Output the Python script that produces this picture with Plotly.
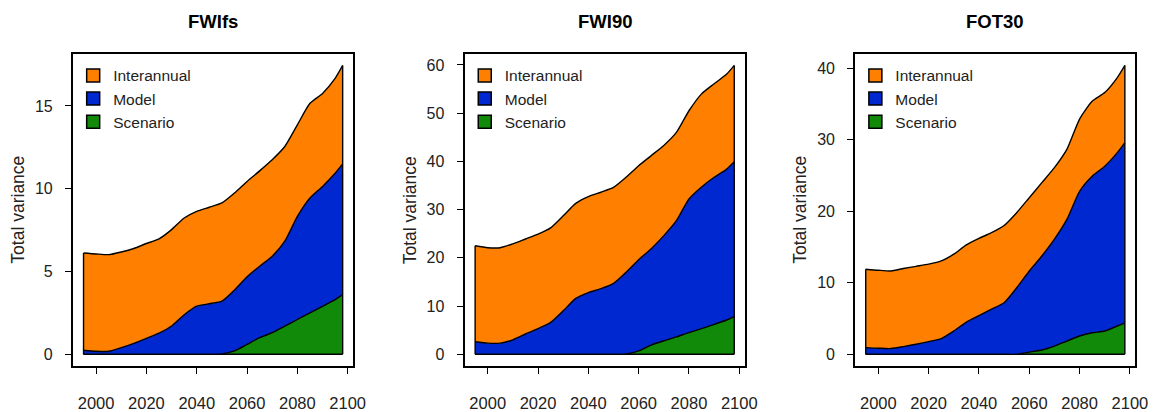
import plotly.graph_objects as go

years = [1995, 2000, 2005, 2010, 2015, 2020, 2025, 2030, 2035, 2040, 2045,
         2050, 2055, 2060, 2065, 2070, 2075, 2080, 2085, 2090, 2095, 2098]

titles = ["FWIfs", "FWI90", "FOT30"]
series_names = ["Interannual", "Model", "Scenario"]

# Variance components (stacked: scenario at bottom, then model, then interannual)
fwifs_scenario = [0, 0, 0, 0, 0, 0, 0, 0, 0, 0, 0, 0.02, 0.2, 0.6, 1.0, 1.3, 1.7, 2.1, 2.5, 2.9, 3.3, 3.6]
fwifs_model = [0.24, 0.18, 0.18, 0.40, 0.66, 0.96, 1.27, 1.71, 2.39, 2.91, 3.05, 3.19, 3.68, 4.08, 4.32, 4.62, 5.13, 6.23, 6.94, 7.24, 7.64, 7.90]
fwifs_interannual = [5.88, 5.88, 5.84, 5.78, 5.73, 5.73, 5.70, 5.82, 5.84, 5.72, 5.83, 5.93, 5.86, 5.76, 5.76, 5.83, 5.72, 5.53, 5.72, 5.62, 5.73, 5.95]

fwi90_scenario = [0, 0, 0, 0, 0, 0, 0, 0, 0, 0, 0, 0, 0.05, 0.7, 1.9, 2.8, 3.6, 4.5, 5.3, 6.2, 7.1, 7.8]
fwi90_model = [2.6, 2.3, 2.3, 3.0, 4.2, 5.3, 6.6, 9.0, 11.6, 12.8, 13.6, 14.7, 16.95, 18.9, 20.0, 21.8, 24.1, 27.7, 29.4, 30.5, 31.3, 32.1]
fwi90_interannual = [19.9, 19.8, 19.8, 19.9, 19.7, 19.6, 19.6, 19.7, 19.7, 19.9, 20.0, 19.9, 19.7, 19.5, 19.3, 18.7, 18.3, 18.3, 19.3, 19.4, 19.7, 20.0]

fot30_scenario = [0, 0, 0, 0, 0, 0, 0, 0, 0, 0, 0, 0, 0, 0.3, 0.6, 1.15, 1.85, 2.55, 3.0, 3.25, 3.95, 4.4]
fot30_model = [0.93, 0.84, 0.8, 1.07, 1.4, 1.77, 2.2, 3.26, 4.5, 5.4, 6.3, 7.2, 9.3, 11.35, 13.15, 14.95, 17.05, 20.25, 21.9, 23.05, 24.25, 25.2]
fot30_interannual = [10.97, 10.91, 10.85, 10.93, 10.9, 10.83, 10.85, 10.74, 10.8, 10.8, 10.7, 10.8, 10.5, 10.25, 10.25, 10.0, 9.8, 10.1, 10.5, 10.3, 10.5, 10.8]

x_ticks = [2000, 2020, 2040, 2060, 2080, 2100]
y_dticks = [5, 10, 10]

panels = [
    (fwifs_scenario, fwifs_model, fwifs_interannual),
    (fwi90_scenario, fwi90_model, fwi90_interannual),
    (fot30_scenario, fot30_model, fot30_interannual),
]

colors = {"Interannual": "#FF8000", "Model": "#0028D0", "Scenario": "#108A08"}

W, H = 1168, 412
box_left = [74, 470, 865]
box_w = 283
box_top, box_bot = 54, 366.7
ydom = [(H - box_bot) / H, (H - box_top) / H]

FONT = "Liberation Sans, Arial, sans-serif"
TXT = "#222222"
OUT = dict(color="black", width=1.4)

fig = go.Figure()
layout = {}
annotations = []

for i, (scen, mod, inter) in enumerate(panels):
    n = i + 1
    xa = "x" if n == 1 else f"x{n}"
    ya = "y" if n == 1 else f"y{n}"
    lg = "legend" if n == 1 else f"legend{n}"
    zero = [0.0] * len(years)
    c1 = [s for s in scen]
    c2 = [s + m for s, m in zip(scen, mod)]
    c3 = [a + b for a, b in zip(c2, inter)]

    # baseline
    fig.add_trace(go.Scatter(x=years, y=zero, mode="lines", line=OUT,
                             showlegend=False, hoverinfo="skip", xaxis=xa, yaxis=ya))
    for name, hi in [("Scenario", c1), ("Model", c2), ("Interannual", c3)]:
        fig.add_trace(go.Scatter(
            x=years, y=hi, fill="tonexty", fillcolor=colors[name], mode="lines",
            line=dict(color="black", width=1.4, shape="spline", smoothing=0.6),
            showlegend=False, hoverinfo="skip", xaxis=xa, yaxis=ya))
    # vertical edges of the stacked polygons
    for xe, ye in [(years[0], c3[0]), (years[-1], c3[-1])]:
        fig.add_trace(go.Scatter(x=[xe, xe], y=[0, ye], mode="lines", line=OUT,
                                 showlegend=False, hoverinfo="skip", xaxis=xa, yaxis=ya))
    for name in series_names:
        fig.add_trace(go.Scatter(
            x=[None], y=[None], mode="markers", name=name,
            marker=dict(symbol="square", size=13, color=colors[name],
                        line=dict(color="black", width=1.5)),
            xaxis=xa, yaxis=ya, legend=lg))

    span = years[-1] - years[0]
    xr = [years[0] - 0.04 * span, years[-1] + 0.04 * span]
    ymax = max(c3)
    yr = [-0.04 * ymax, 1.04 * ymax]
    xdom = [box_left[i] / W, (box_left[i] + box_w) / W]

    layout["xaxis" if n == 1 else f"xaxis{n}"] = dict(
        domain=xdom, range=xr, anchor=ya, tickvals=x_ticks,
        showgrid=False, zeroline=False, showline=True, mirror=True,
        linecolor="black", linewidth=1.5, ticks="outside", ticklen=6.5,
        tickwidth=1.2, tickcolor="black", ticklabelstandoff=15,
        tickfont=dict(family=FONT, size=16.5, color=TXT))
    layout["yaxis" if n == 1 else f"yaxis{n}"] = dict(
        domain=ydom, range=yr, anchor=xa, dtick=y_dticks[i], tick0=0,
        showgrid=False, zeroline=False, showline=True, mirror=True,
        linecolor="black", linewidth=1.5, ticks="outside", ticklen=6.5,
        tickwidth=1.2, tickcolor="black", ticklabelstandoff=9,
        tickfont=dict(family=FONT, size=16, color=TXT))
    layout[lg] = dict(
        x=xdom[0], y=ydom[1] - 5 / H, xanchor="left", yanchor="top",
        bgcolor="rgba(0,0,0,0)", borderwidth=0, tracegroupgap=0,
        traceorder="normal",
        font=dict(family=FONT, size=15.5, color=TXT))

    cx = (box_left[i] + box_w / 2) / W
    annotations.append(dict(text=f"<b>{titles[i]}</b>", x=cx, y=(H - 22) / H,
                            xref="paper", yref="paper", showarrow=False,
                            xanchor="center", yanchor="middle",
                            font=dict(family=FONT, size=18.5, color="black")))
    annotations.append(dict(text="Total variance", textangle=-90,
                            x=(box_left[i] - 56) / W, y=(ydom[0] + ydom[1]) / 2,
                            xref="paper", yref="paper", showarrow=False,
                            xanchor="center", yanchor="middle",
                            font=dict(family=FONT, size=17.5, color=TXT)))

fig.update_layout(**layout)
fig.update_layout(
    width=W, height=H, margin=dict(l=0, r=0, t=0, b=0),
    paper_bgcolor="white", plot_bgcolor="white",
    annotations=annotations, showlegend=True)

fig.write_html("out.html", config={"displayModeBar": False},
               post_script="document.body.style.margin='0';document.body.style.overflow='hidden';")
